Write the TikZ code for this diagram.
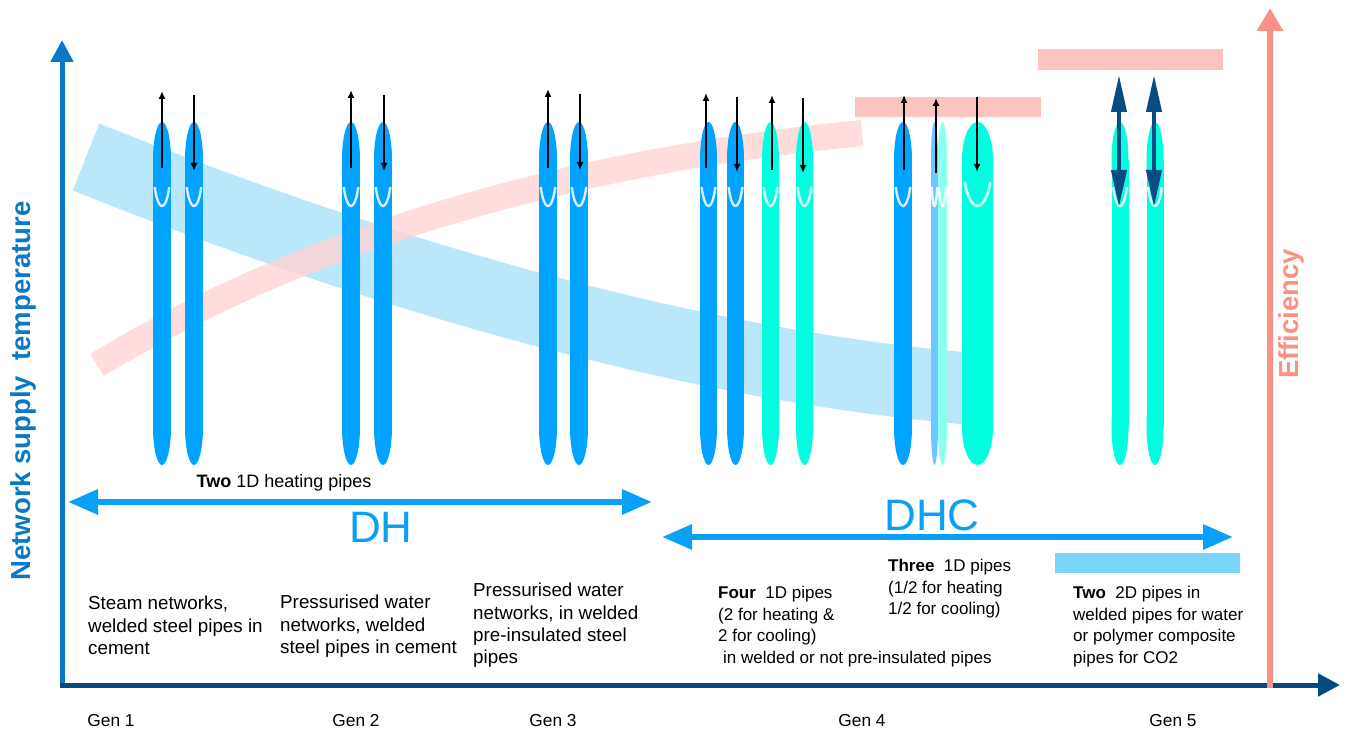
\documentclass[tikz,border=0pt]{standalone}
\usepackage{fontspec}
\setmainfont{Liberation Sans}
\usetikzlibrary{arrows.meta}
\definecolor{pipeblue}{RGB}{0,163,255}
\definecolor{pipecyan}{RGB}{0,255,225}
\definecolor{pipelb}{RGB}{110,200,255}
\definecolor{pipelc}{RGB}{140,255,238}
\definecolor{bandblue}{RGB}{186,231,250}
\definecolor{bandpink}{RGB}{255,212,212}
\definecolor{barpink}{RGB}{252,196,193}
\definecolor{barblue}{RGB}{120,214,250}
\definecolor{yaxiscol}{RGB}{10,120,200}
\definecolor{xaxiscol}{RGB}{5,75,130}
\definecolor{effcol}{RGB}{250,145,135}
\definecolor{dhblue}{RGB}{10,160,245}
\definecolor{navyarrow}{RGB}{10,75,130}
\newcommand\drawpipe[3]{%
  \fill[#3] (#1-#2,160) rectangle (#1+#2,427);
  \fill[#3] (#1,160) ellipse[x radius=#2, y radius=38];
  \fill[#3] (#1,427) ellipse[x radius=#2, y radius=38];
  \draw[white, opacity=0.85, line width=2.4pt]
    ({#1+0.93*#2*cos(30)},{168+38*sin(30)}) arc[start angle=30, end angle=150, x radius={0.93*#2}, y radius=38];
}
\newcommand\drawbigpipe[3]{%
  \fill[#3] (#1-#2,160) rectangle (#1+#2,427);
  \fill[#3] (#1,160) ellipse[x radius=#2, y radius=38];
  \fill[#3] (#1,427) ellipse[x radius=#2, y radius=38];
  \draw[white, opacity=0.85, line width=2.6pt]
    ({#1+0.93*#2*cos(28)},{161+45*sin(28)}) arc[start angle=28, end angle=152, x radius={0.93*#2}, y radius=45];
}
\tikzset{
  lbl/.style={font=\fontsize{17}{21.5}\selectfont, align=left, anchor=north west, inner sep=0pt, text=black},
  lblbig/.style={font=\fontsize{18.8}{22.3}\selectfont, align=left, anchor=north west, inner sep=0pt, text=black},
  genlbl/.style={font=\fontsize{17.3}{20}\selectfont, inner sep=0pt, text=black},
  biglbl/.style={font=\fontsize{44}{48}\selectfont, text=dhblue, inner sep=0pt, anchor=base},
  axlbl/.style={font=\bfseries\fontsize{27.5}{30}\selectfont, rotate=90, inner sep=0pt},
  inarrow/.style={black, line width=1.8pt, -{Latex[length=8pt,width=7pt]}},
  genfivearrow/.style={navyarrow, line width=4pt, {Triangle[length=37pt,width=15pt]}-{Triangle[length=37pt,width=15pt]}},
  rangearrow/.style={dhblue, line width=6pt, {Triangle[length=30pt,width=24pt]}-{Triangle[length=30pt,width=24pt]}},
}
\begin{document}
\begin{tikzpicture}[x=1pt,y=-1pt]
\useasboundingbox (0,0) rectangle (1350,743);
% bands
\draw[bandblue, line width=72pt] (86,157) .. controls (421,291) and (721,369) .. (985,390);
\draw[bandpink, line width=26pt, opacity=0.8] (97,365) .. controls (304,240) and (559,163) .. (862,133);
% bars
\fill[barpink] (855,97) rectangle (1041,117);
\fill[barpink] (1038,49) rectangle (1223,70);
\fill[barblue] (1055,553) rectangle (1240,573);
% pipes
\drawpipe{162}{9}{pipeblue}
\drawpipe{194}{9}{pipeblue}
\drawpipe{351}{9}{pipeblue}
\drawpipe{383}{9}{pipeblue}
\drawpipe{548}{9}{pipeblue}
\drawpipe{579}{9}{pipeblue}
\drawpipe{708.5}{8.5}{pipeblue}
\drawpipe{735.5}{8.5}{pipeblue}
\drawpipe{770.5}{8.5}{pipecyan}
\drawpipe{804.5}{8.5}{pipecyan}
\drawpipe{903}{9}{pipeblue}
\drawpipe{942.5}{4.5}{pipelc}
\drawpipe{934.5}{3.5}{pipelb}
\drawbigpipe{977.5}{15.5}{pipecyan}
\drawpipe{1120}{8.5}{pipecyan}
\drawpipe{1155}{8.5}{pipecyan}
% flow arrows
\draw[inarrow] (162,168) -- (162,91);
\draw[inarrow] (194,95) -- (194,171);
\draw[inarrow] (351,168) -- (351,90);
\draw[inarrow] (384,95) -- (384,171);
\draw[inarrow] (548,168) -- (548,89);
\draw[inarrow] (580,94) -- (580,170);
\draw[inarrow] (706,168) -- (706,93);
\draw[inarrow] (737,97) -- (737,172);
\draw[inarrow] (772,170) -- (772,95);
\draw[inarrow] (803,98) -- (803,173);
\draw[inarrow] (904,170) -- (904,95);
\draw[inarrow] (936,173) -- (936,98);
\draw[inarrow] (977,97) -- (977,172);
\draw[genfivearrow] (1119,75) -- (1119,207);
\draw[genfivearrow] (1154,75) -- (1154,207);
% axes
\coordinate (O) at (62,688);
\coordinate (ytop) at (62,40);
\coordinate (xo) at (60,685);
\coordinate (xend) at (1340,685);
\coordinate (eo) at (1270,688);
\coordinate (etop) at (1270,8);
\draw[yaxiscol, line width=5pt, -{Triangle[length=22pt,width=22pt]}] (O) -- (ytop);
\draw[xaxiscol, line width=5pt, -{Triangle[length=22pt,width=22pt]}] (xo) -- (xend);
\draw[effcol, line width=6pt, -{Triangle[length=23pt,width=25pt]}] (eo) -- (etop);
\node[axlbl, text=yaxiscol] (ylab) at (23,391) {Network supply~ temperature};
\node[axlbl, text=effcol] (elab) at (1291,314) {Efficiency};
% ranges
\coordinate (dhl) at (68,502);
\coordinate (dhr) at (652,502);
\coordinate (dhcl) at (662,537);
\coordinate (dhcr) at (1233,537);
\draw[rangearrow] (dhl) -- (dhr);
\draw[rangearrow] (dhcl) -- (dhcr);
\node[genlbl, anchor=base, font=\fontsize{18}{20}\selectfont] (twoheat) at (284,487) {\textbf{Two} 1D heating pipes};
\node[biglbl] (dh) at (381,542) {DH};
\node[biglbl] (dhc) at (932,530) {DHC};
% descriptions
\node[lblbig] (t1) at (88,596) {Steam networks,\\welded steel pipes in\\cement};
\node[lblbig] (t2) at (280,595) {Pressurised water\\networks, welded\\steel pipes in cement};
\node[lblbig] (t3) at (473,583) {Pressurised water\\networks, in welded\\pre-insulated steel\\pipes};
\node[lbl] (t4) at (718,586) {\textbf{Four}~ 1D pipes\\(2 for heating \&\\2 for cooling)};
\node[lbl] (t4b) at (723,651) {in welded or not pre-insulated pipes};
\node[lbl] (t4c) at (888,559) {\textbf{Three}~ 1D pipes\\(1/2 for heating\\1/2 for cooling)};
\node[lbl] (t5) at (1073,586) {\textbf{Two}~ 2D pipes in\\welded pipes for water\\or polymer composite\\pipes for CO2};
% gen labels
\node[genlbl] (g1) at (111,721) {Gen 1};
\node[genlbl] (g2) at (356,721) {Gen 2};
\node[genlbl] (g3) at (553,721) {Gen 3};
\node[genlbl] (g4) at (862,721) {Gen 4};
\node[genlbl] (g5) at (1173,721) {Gen 5};
\end{tikzpicture}
\end{document}
